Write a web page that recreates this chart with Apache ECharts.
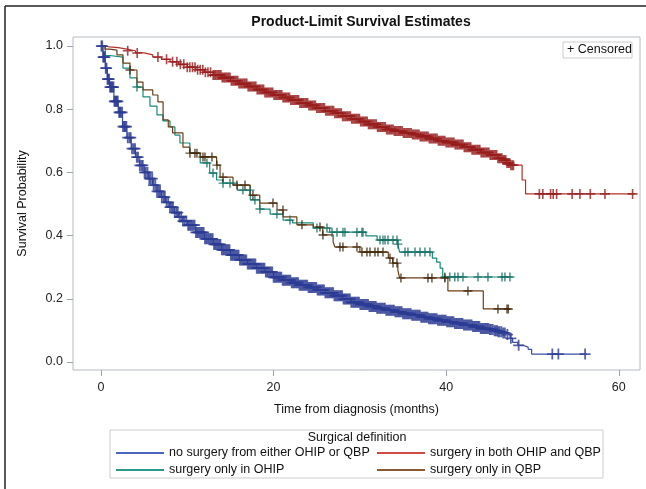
<!DOCTYPE html>
<html><head><meta charset="utf-8">
<script src="https://cdn.jsdelivr.net/npm/echarts@6/dist/echarts.min.js"></script>
<style>html,body{margin:0;padding:0;background:#fff}#c{width:646px;height:489px}</style>
</head><body><div id="c"></div>
<script>
// ---------------- data ----------------
const chartTitle = 'Product-Limit Survival Estimates';
const xTitle = 'Time from diagnosis (months)';
const yTitle = 'Survival Probability';
const legendTitle = 'Surgical definition';
const groupNames = ['no surgery from either OHIP or QBP','surgery in both OHIP and QBP','surgery only in OHIP','surgery only in QBP'];
const xTicks = [0, 20, 40, 60];
const yTicks = [0, 0.2, 0.4, 0.6, 0.8, 1.0];

// no surgery (blue)
const noneT = [0,0.25,0.5,0.75,1,1.5,2,2.5,3,3.5,4,4.5,5,5.5,6,6.5,7,7.5,8,8.5,9,9.5,10,11,12,13,14,15,16,17,18,19,20,21,22,23,24,25,26,27,28,29,30,31,32,33,34,35,36,37,38,39,40,41,42,43,44,45,45.5,46,46.5,47,47.4,47.7,48.3,48.9,49.5,49.9,56.3];
const noneS = [1,0.965,0.93,0.895,0.87,0.825,0.79,0.745,0.71,0.675,0.648,0.622,0.6,0.58,0.56,0.54,0.522,0.505,0.49,0.473,0.459,0.446,0.433,0.41,0.39,0.372,0.355,0.338,0.323,0.31,0.297,0.285,0.268,0.259,0.251,0.243,0.236,0.228,0.219,0.21,0.199,0.189,0.182,0.176,0.17,0.164,0.159,0.153,0.148,0.142,0.137,0.132,0.127,0.122,0.117,0.112,0.106,0.103,0.099,0.096,0.092,0.087,0.075,0.062,0.053,0.047,0.04,0.025,0.025];
const noneCens = [0.05,0.15,0.25,0.35,0.45,0.55,0.65,0.75,0.85,0.95,1.05,1.15,1.25,1.35,1.45,1.55,1.65,1.75,1.85,1.95,2.1,2.2,2.3,2.45,2.55,2.7,2.8,2.95,
3.1,3.3,3.45,3.6,3.8,3.95,4.15,4.3,4.5,4.7,4.85,5.05,5.2,5.4,5.6,5.75,5.95,6.1,6.3,6.5,6.7,6.85,7.05,7.25,7.4,7.6,7.8,8.0,8.2,8.35,8.55,8.75,8.9,9.1,9.3,9.5,9.7,9.9,
10.1,10.4,10.7,11.0,11.3,11.6,11.9,12.2,12.5,12.8,13.1,13.4,13.7,14.0,14.3,14.6,14.9,15.2,15.5,15.8,16.1,16.4,16.7,17.0,17.3,17.6,17.9,18.2,18.5,18.8,19.1,19.4,19.7,20.0,
20.3,20.6,20.9,21.2,21.5,21.8,22.1,22.4,22.7,23.0,23.3,23.6,23.9,24.2,24.5,24.8,25.1,25.4,25.7,26.0,26.3,26.6,26.9,27.2,27.5,27.8,28.1,28.4,28.7,29.0,29.3,29.6,29.9,
30.2,30.5,30.8,31.1,31.4,31.7,32.0,32.3,32.6,32.9,33.2,33.5,33.8,34.1,34.4,34.7,35.0,35.3,35.6,35.9,36.2,36.5,36.8,37.1,37.4,37.7,38.0,38.3,38.6,38.9,39.2,39.5,39.8,
40.1,40.4,40.7,41.0,41.3,41.6,41.9,42.2,42.5,42.8,43.1,43.4,43.7,44.0,44.3,44.6,44.9,45.2,45.6,45.9,46.2,46.6,47.1,47.5,48.4,52.3,53.0,56.1,
10.25,10.55,10.85,11.15,11.45,11.75,12.05,12.35,12.65,12.95,13.25,13.55,13.85,14.15,14.45,14.75,15.05,15.35,15.65,15.95,16.25,16.55,16.85,17.15,17.45,17.75,18.05,18.35,18.65,18.95,19.25,19.55,19.85,
20.15,20.45,20.75,21.05,21.35,21.65,21.95,22.25,22.55,22.85,23.15,23.45,23.75,24.05,24.35,24.65,24.95,25.25,25.55,25.85,26.15,26.45,26.75,27.05,27.35,27.65,27.95,28.25,28.55,28.85,29.15,29.45,29.75,
30.05,30.35,30.65,30.95,31.25,31.55,31.85,32.15,32.45,32.75,33.05,33.35,33.65,33.95,34.25,34.55,34.85,35.15,35.45,35.75,36.05,36.35,36.65,36.95,37.25,37.55,37.85,38.15,38.45,38.75,39.05,39.35,39.65,39.95,
40.25,40.55,40.85,41.15,41.45,41.75,42.05,42.35,42.65,42.95,43.25,43.55,43.85,44.15,44.45,44.75,45.05,45.4,45.75,46.05,46.4,46.8];

// both (red)
const bothT = [0,0.5,1,2,3,4,5,6,7,8,9,10,11,12,13,14,15,16,17,18,19,20,21,22,23,24,25,26,27,28,29,30,31,32,33,34,35,36,37,38,39,40,41,42,43,44,45,46,46.6,47,47.4,48.8,49.2,61.9];
const bothS = [1,0.997,0.995,0.99,0.985,0.978,0.972,0.965,0.958,0.95,0.942,0.933,0.925,0.917,0.908,0.9,0.89,0.881,0.872,0.862,0.853,0.845,0.837,0.829,0.82,0.812,0.804,0.795,0.787,0.778,0.77,0.761,0.752,0.744,0.736,0.731,0.725,0.72,0.714,0.707,0.7,0.695,0.688,0.68,0.672,0.663,0.655,0.645,0.639,0.63,0.623,0.576,0.532,0.532];
const bothCens = [3.1,4.2,6.6,7.6,8.3,8.8,9.2,9.6,10.0,10.3,10.6,10.9,11.2,11.5,11.8,12.1,12.4,12.7,13.0,13.3,13.6,13.9,14.2,14.5,14.8,15.1,15.4,15.7,16.0,16.3,16.6,16.9,17.2,17.5,17.8,18.1,18.4,18.7,19.0,19.3,19.6,19.9,
20.2,20.5,20.8,21.1,21.4,21.7,22.0,22.3,22.6,22.9,23.2,23.5,23.8,24.1,24.4,24.7,25.0,25.3,25.6,25.9,26.2,26.5,26.8,27.1,27.4,27.7,28.0,28.3,28.6,28.9,29.2,29.5,29.8,
30.1,30.4,30.7,31.0,31.3,31.6,31.9,32.2,32.5,32.8,33.1,33.4,33.7,34.0,34.3,34.6,34.9,35.2,35.5,35.8,36.1,36.4,36.7,37.0,37.3,37.6,37.9,38.2,38.5,38.8,39.1,39.4,39.7,
40.0,40.3,40.6,40.9,41.2,41.5,41.8,42.1,42.4,42.7,43.0,43.3,43.6,43.9,44.2,44.5,44.8,45.1,45.4,45.7,46.0,46.3,46.6,46.9,47.2,47.5,47.8,
50.8,51.2,52.1,52.4,52.8,54.6,55.5,56.7,58.4,61.6,
13.15,13.45,13.75,14.05,14.35,14.65,14.95,15.25,15.55,15.85,16.15,16.45,16.75,17.05,17.35,17.65,17.95,18.25,18.55,18.85,19.15,19.45,19.75,
20.05,20.35,20.65,20.95,21.25,21.55,21.85,22.15,22.45,22.75,23.05,23.35,23.65,23.95,24.25,24.55,24.85,25.15,25.45,25.75,26.05,26.35,26.65,26.95,27.25,27.55,27.85,28.15,28.45,28.75,29.05,29.35,29.65,29.95,
30.25,30.55,30.85,31.15,31.45,31.75,32.05,32.35,32.65,32.95,33.25,33.55,33.85,34.15,34.45,34.75,35.05,35.35,35.65,35.95,36.25,36.55,36.85,37.15,37.45,37.75,38.05,38.35,38.65,38.95,39.25,39.55,39.85,
40.15,40.45,40.75,41.05,41.35,41.65,41.95,42.25,42.55,42.85,43.15,43.45,43.75,44.05,44.35,44.65,44.95,45.25,45.55,45.85,46.15,46.45,46.75,47.05,47.35,47.65];

// only OHIP (teal)
const ohipT = [0,0.5,1.0,2.55,3.36,4.17,4.87,5.68,6.49,7.18,8.0,8.57,9.15,10.3,11.5,12.6,13.4,14.1,15.8,17.3,18.4,19.6,21.1,22.2,24.6,26.5,30.7,32.0,34.4,34.6,38.4,38.9,39.3,39.6,47.7];
const ohipS = [1,0.97,0.965,0.93,0.899,0.87,0.839,0.81,0.782,0.763,0.744,0.718,0.693,0.661,0.63,0.598,0.576,0.566,0.544,0.513,0.484,0.468,0.449,0.44,0.424,0.411,0.399,0.386,0.373,0.348,0.329,0.316,0.297,0.269,0.269];
const ohipCens = [4.17,12.28,12.98,14.14,14.95,16.45,17.27,17.84,18.42,20.39,21.9,25.03,26.19,26.77,27.35,28.04,28.27,29.66,30.24,30.36,32.33,32.68,32.91,33.26,33.84,34.3,34.42,35.23,35.57,36.39,36.97,37.54,38.12,39.85,40.42,41.0,41.37,41.95,43.69,44.84,46.47,46.81,47.39];

// only QBP (brown)
const qbpT = [0,0.46,1.0,1.85,2.55,3.36,4.17,4.87,6.0,6.6,7.2,7.8,8.3,9.5,10.3,11.5,13.4,13.8,15.3,17.3,18.4,20.4,21.1,22.7,24.6,25.7,26.9,27.1,30.0,33.3,33.8,34.4,34.6,40.2,44.3,47.4];
const qbpS = [1,0.99,0.987,0.972,0.946,0.924,0.886,0.861,0.845,0.823,0.766,0.744,0.725,0.68,0.661,0.649,0.623,0.585,0.56,0.528,0.503,0.481,0.459,0.434,0.427,0.402,0.38,0.364,0.348,0.329,0.313,0.291,0.266,0.225,0.168,0.168];
const qbpCens = [3.36,10.31,10.89,11.12,11.82,12.05,12.86,13.44,14.14,15.76,16.69,17.61,19.93,21.09,23.29,25.38,25.72,27.69,28.04,29.66,30.24,30.82,31.17,31.75,32.1,32.68,33.49,33.84,34.3,34.76,37.89,38.35,39.85,42.52,46.0,47.05,47.2];

// ---------------- chart ----------------
const lineColors = ['#3a50a6','#b3302c','#17897a','#6a3f16'];
const markColors = ['#2c3b92','#971d1d','#0f6d60','#3f2408'];
const legendColors = ['#4a66c0','#d24a45','#2a9a8a','#8a5a32'];
const markSizes = [11, 10, 9, 9];
const groups = [[noneT,noneS,noneCens],[bothT,bothS,bothCens],[ohipT,ohipS,ohipCens],[qbpT,qbpS,qbpCens]];
function survAt(T,S,t){let v=S[0];for(let i=0;i<T.length;i++){if(T[i]<=t)v=S[i];}return v;}
const plus = 'path://M4.2,0H5.8V4.2H10V5.8H5.8V10H4.2V5.8H0V4.2H4.2Z';
const series = [];
groups.forEach((g,i)=>{
  series.push({name:groupNames[i],type:'line',step:'end',showSymbol:false,symbol:'none',
    data:g[0].map((t,k)=>[t,g[1][k]]),lineStyle:{color:lineColors[i],width:1.2},itemStyle:{color:lineColors[i]},
    silent:true,animation:false,z:2+i});
});
groups.forEach((g,i)=>{
  series.push({name:'censored'+i,type:'scatter',symbol:plus,symbolSize:markSizes[i],
    data:g[2].map(t=>[t,survAt(g[0],g[1],t)]),itemStyle:{color:markColors[i]},silent:true,animation:false,z:6+i});
});
const font = 'Liberation Sans, Arial, sans-serif';
const legendBase = {orient:'vertical',top:446,padding:0,itemWidth:48,itemHeight:2,itemGap:3,icon:'rect',
  textStyle:{fontFamily:font,fontSize:12.5,color:'#111',lineHeight:14},selectedMode:false};
const chart = echarts.init(document.getElementById('c'),null,{renderer:'canvas'});
chart.setOption({
  animation:false,
  backgroundColor:'#fff',
  textStyle:{fontFamily:font},
  title:{text:chartTitle,left:356,top:10,textAlign:'center',textStyle:{fontFamily:font,fontSize:14,fontWeight:'bold',color:'#111'}},
  grid:{left:73,right:6,top:37,bottom:119,show:true,borderColor:'#b4bcc6',borderWidth:1,backgroundColor:'#fff'},
  xAxis:{type:'value',min:-3.24,max:62.46,name:xTitle,nameLocation:'middle',nameGap:33,
    nameTextStyle:{fontFamily:font,fontSize:12.5,color:'#111'},
    axisLine:{show:false,onZero:false},splitLine:{show:false},
    axisTick:{show:true,length:6,lineStyle:{color:'#9aa2ac'},customValues:xTicks},
    axisLabel:{customValues:xTicks,margin:11,fontFamily:font,fontSize:12.5,color:'#222'}},
  yAxis:{type:'value',min:-0.0253,max:1.0285,name:yTitle,nameLocation:'middle',nameGap:44,
    nameTextStyle:{fontFamily:font,fontSize:12.5,color:'#111'},
    axisLine:{show:false,onZero:false},splitLine:{show:false},
    axisTick:{show:true,length:6,lineStyle:{color:'#9aa2ac'},customValues:yTicks},
    axisLabel:{customValues:yTicks,margin:10,fontFamily:font,fontSize:12.5,color:'#222',formatter:v=>v.toFixed(1)}},
  legend:[
    Object.assign({}, legendBase, {left:116,
      data:[{name:groupNames[0],itemStyle:{color:legendColors[0]}},{name:groupNames[2],itemStyle:{color:legendColors[2]}}]}),
    Object.assign({}, legendBase, {left:377,
      data:[{name:groupNames[1],itemStyle:{color:legendColors[1]}},{name:groupNames[3],itemStyle:{color:legendColors[3]}}]})
  ],
  graphic:[
    {type:'line',shape:{x1:5,y1:6,x2:646,y2:6},style:{stroke:'#222',lineWidth:1.5},silent:true},
    {type:'line',shape:{x1:5,y1:6,x2:5,y2:489},style:{stroke:'#222',lineWidth:1.5},silent:true},
    {type:'rect',shape:{x:563,y:42,width:69,height:16},style:{fill:'#fff',stroke:'#c8ccd2',lineWidth:1},silent:true,z:50},
    {type:'text',x:567,y:50,style:{text:'+ Censored',fontFamily:font,fontSize:12.5,fill:'#111',verticalAlign:'middle'},silent:true,z:51},
    {type:'rect',shape:{x:110,y:430,width:493,height:48},style:{fill:'none',stroke:'#c8ccd2',lineWidth:1},silent:true},
    {type:'text',x:357,y:438,style:{text:legendTitle,fontFamily:font,fontSize:12.5,fill:'#111',align:'center',verticalAlign:'middle'},silent:true}
  ],
  series:series
});
</script></body></html>
